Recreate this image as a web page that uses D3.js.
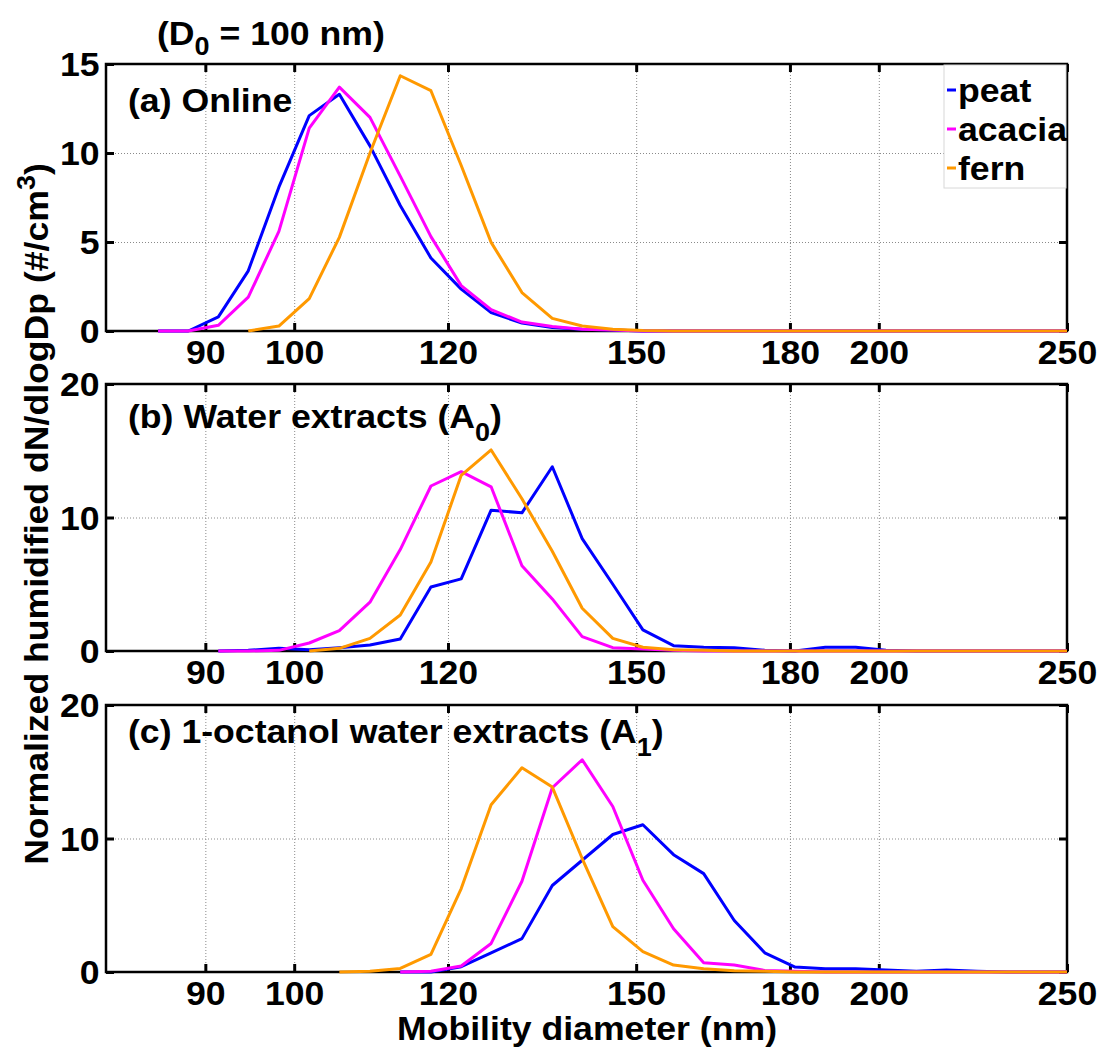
<!DOCTYPE html>
<html>
<head>
<meta charset="utf-8">
<script src="https://cdn.jsdelivr.net/npm/d3@7"></script>
<style>
  body { margin: 0; background: #fff; }
  svg { display: block; font-family: "Liberation Sans", Arial, sans-serif; font-weight: bold; }
</style>
</head>
<body>
<div id="chart"></div>
<script>
// SMPS bin midpoints (nm)
const xBins = [85.1, 88.2, 91.4, 94.7, 98.2, 101.8, 105.5, 109.4, 113.4, 117.6,
  121.9, 126.3, 131.0, 135.8, 140.7, 145.9, 151.2, 156.8, 162.5, 168.5,
  174.7, 181.1, 187.7, 194.6, 201.7, 209.1, 216.7, 224.7, 232.9, 241.4, 250.3];

// (a) Online  (null = no measurement)
const peatA = [0, 0, 0.79, 3.38, 8.08, 12.1, 13.3, 10.4, 7.05, 4.1,
  2.35, 1.03, 0.45, 0.2, 0.1, 0.05, 0, 0, 0, 0, 0, 0, 0, 0, 0, 0, 0, 0, 0, 0, 0];
const acaciaA = [0, 0, 0.32, 1.9, 5.6, 11.4, 13.7, 12.0, 8.7, 5.3,
  2.55, 1.2, 0.5, 0.25, 0.1, 0.05, 0, 0, 0, 0, 0, 0, 0, 0, 0, 0, 0, 0, 0, 0, 0];
const fernA = [null, null, null, 0, 0.28, 1.82, 5.26, 10.0, 14.34, 13.5,
  9.3, 4.98, 2.16, 0.71, 0.28, 0.1, 0.03, 0, 0, 0, 0, 0, 0, 0, 0, 0, 0, 0, 0, 0, 0];

// (b) Water extracts (A0)
const peatB = [null, null, 0, 0.05, 0.2, 0.1, 0.25, 0.45, 0.9, 4.79,
  5.4, 10.55, 10.35, 13.8, 8.42, 5.0, 1.58, 0.4, 0.28, 0.25,
  0.05, 0, 0.28, 0.28, 0.05, 0, 0, 0, 0, 0, 0];
const acaciaB = [null, null, 0, 0, 0.05, 0.6, 1.53, 3.66, 7.6, 12.36,
  13.43, 12.3, 6.39, 3.9, 1.08, 0.25, 0.15, 0.05, 0, 0, 0, 0, 0, 0, 0, 0, 0, 0, 0, 0, 0];
const fernB = [null, null, null, null, null, 0, 0.2, 0.95, 2.7, 6.67,
  13.16, 15.06, 11.4, 7.47, 3.2, 0.95, 0.28, 0.1, 0.05, 0, 0, 0, 0, 0, 0, 0, 0, 0, 0, 0, 0];

// (c) 1-octanol water extracts (A1)
const peatC = [null, null, null, null, null, null, null, null, 0, 0,
  0.4, 1.44, 2.5, 6.48, 8.37, 10.3, 11.03, 8.79, 7.37, 3.86,
  1.44, 0.37, 0.25, 0.25, 0.15, 0.05, 0.15, 0.05, 0, 0, 0];
const acaciaC = [null, null, null, null, null, null, null, null, 0, 0.05,
  0.45, 2.14, 6.8, 13.8, 15.9, 12.4, 6.87, 3.24, 0.7, 0.52,
  0.12, 0.05, 0, 0, 0, 0, 0, 0, 0, 0, 0];
const fernC = [null, null, null, null, null, null, 0, 0.05, 0.27, 1.32,
  6.25, 12.53, 15.3, 13.85, 8.5, 3.4, 1.52, 0.52, 0.25, 0.1,
  0.05, 0, 0, 0, 0, 0, 0, 0, 0, 0, 0];

const seriesNames = [`peat`, `acacia`, `fern`];
const seriesColors = [`#0000ff`, `#ff00ff`, `#ff9900`];
const xTicks = [90, 100, 120, 150, 180, 200, 250];
const yTicksA = [0, 5, 10, 15];
const yTicksBC = [0, 10, 20];

const panels = [
  { label: [`(a) Online`], yMax: 15, yTicks: yTicksA, series: [peatA, acaciaA, fernA], top: 64, labelY: 112 },
  { label: [`(b) Water extracts (A`, `0`, `)`], yMax: 20, yTicks: yTicksBC, series: [peatB, acaciaB, fernB], top: 384, labelY: 428 },
  { label: [`(c) 1-octanol water extracts (A`, `1`, `)`], yMax: 20, yTicks: yTicksBC, series: [peatC, acaciaC, fernC], top: 705, labelY: 743 },
];

const width = 1101, height = 1048;
const left = 106, right = 1067, panelH = 267;
const fontSize = 33;
const stretch = 1.08; // reference text is a bit wider than Arial

const svg = d3.select(`#chart`).append(`svg`)
  .attr(`width`, width).attr(`height`, height)
  .attr(`viewBox`, `0 0 ${width} ${height}`);

const x = d3.scaleLog().domain([80, 250]).range([left, right]);

const line = (y) => d3.line()
  .defined((d) => d[1] != null)
  .x((d) => x(d[0]))
  .y((d) => y(d[1]));

function styleText(sel) {
  sel.selectAll(`text`)
    .attr(`font-size`, fontSize)
    .attr(`font-family`, `"Liberation Sans", Arial, sans-serif`)
    .attr(`font-weight`, `bold`)
    .attr(`fill`, `#000`)
    .attr(`transform`, `scale(${stretch},1)`);
}

// text placed at (tx, ty), widened a bit
function addText(parent, tx, ty, extra) {
  return parent.append(`text`)
    .attr(`transform`, `translate(${tx}, ${ty}) ${extra || ``} scale(${stretch},1)`)
    .attr(`font-size`, fontSize);
}

panels.forEach((p, pi) => {
  const bottom = p.top + panelH;
  const y = d3.scaleLinear().domain([0, p.yMax]).range([bottom, p.top]);
  const g = svg.append(`g`);

  svg.append(`clipPath`).attr(`id`, `clip${pi}`)
    .append(`rect`).attr(`x`, left).attr(`y`, p.top - 5)
    .attr(`width`, right - left).attr(`height`, panelH + 10);

  // grid
  g.append(`g`)
    .attr(`transform`, `translate(0, ${bottom})`)
    .call(d3.axisBottom(x).tickValues(xTicks.filter((t) => t < 250)).tickSize(-panelH).tickFormat(``))
    .call((s) => s.select(`.domain`).remove())
    .selectAll(`line`).attr(`stroke`, `#8a8a8a`).attr(`stroke-width`, 1).attr(`stroke-dasharray`, `1,2`);
  g.append(`g`)
    .attr(`transform`, `translate(${left}, 0)`)
    .call(d3.axisLeft(y).tickValues(p.yTicks.filter((t) => t > 0 && t < p.yMax)).tickSize(-(right - left)).tickFormat(``))
    .call((s) => s.select(`.domain`).remove())
    .selectAll(`line`).attr(`stroke`, `#8a8a8a`).attr(`stroke-width`, 1).attr(`stroke-dasharray`, `1,2`);

  // axes with inward ticks
  const xb = g.append(`g`)
    .attr(`transform`, `translate(0, ${bottom})`)
    .call(d3.axisBottom(x).tickValues(xTicks).tickSizeInner(-8).tickSizeOuter(0).tickPadding(10).tickFormat(d3.format(`d`)));
  g.append(`g`)
    .attr(`transform`, `translate(0, ${p.top})`)
    .call(d3.axisTop(x).tickValues(xTicks).tickSizeInner(-8).tickSizeOuter(0).tickFormat(``));
  const yl = g.append(`g`)
    .attr(`transform`, `translate(${left}, 0)`)
    .call(d3.axisLeft(y).tickValues(p.yTicks).tickSizeInner(-8).tickSizeOuter(0).tickPadding(6));
  g.append(`g`)
    .attr(`transform`, `translate(${right}, 0)`)
    .call(d3.axisRight(y).tickValues(p.yTicks).tickSizeInner(-8).tickSizeOuter(0).tickFormat(``));
  g.selectAll(`.domain`).remove();
  g.selectAll(`.tick line`).filter(function () { return !this.getAttribute(`stroke-dasharray`); })
    .attr(`stroke`, `#000`).attr(`stroke-width`, 3);
  styleText(xb);
  styleText(yl);
  yl.selectAll(`text`).attr(`dy`, `0.36em`);

  g.append(`rect`)
    .attr(`x`, left).attr(`y`, p.top)
    .attr(`width`, right - left).attr(`height`, panelH)
    .attr(`fill`, `none`).attr(`stroke`, `#000`).attr(`stroke-width`, 2.5);

  // data
  const dg = g.append(`g`).attr(`clip-path`, `url(#clip${pi})`);
  p.series.forEach((vals, i) => {
    dg.append(`path`)
      .attr(`d`, line(y)(xBins.map((b, j) => [b, vals[j]])))
      .attr(`fill`, `none`)
      .attr(`stroke`, seriesColors[i])
      .attr(`stroke-width`, 3)
      .attr(`stroke-linejoin`, `round`);
  });

  // panel label
  const t = addText(g, 128, p.labelY);
  t.append(`tspan`).text(p.label[0]);
  if (p.label.length > 1) {
    t.append(`tspan`).attr(`dy`, 13).attr(`font-size`, 25).text(p.label[1]);
    t.append(`tspan`).attr(`dy`, -13).text(p.label[2]);
  }
});

// legend (panel a)
const legend = svg.append(`g`);
legend.append(`rect`)
  .attr(`x`, 944).attr(`y`, 65).attr(`width`, 122).attr(`height`, 123)
  .attr(`fill`, `#fff`).attr(`stroke`, `#d8d8d8`).attr(`stroke-width`, 1);
seriesNames.forEach((name, i) => {
  const cy = 90 + i * 39;
  legend.append(`line`)
    .attr(`x1`, 947).attr(`x2`, 956).attr(`y1`, cy).attr(`y2`, cy)
    .attr(`stroke`, seriesColors[i]).attr(`stroke-width`, 3);
  addText(legend, 958, cy + 12).text(name);
});

// title
const title = addText(svg, 157, 45);
title.append(`tspan`).text(`(D`);
title.append(`tspan`).attr(`dy`, 10).attr(`font-size`, 25).text(`0`);
title.append(`tspan`).attr(`dy`, -10).text(` = 100 nm)`);

// axis labels
addText(svg, 587, 1040)
  .attr(`text-anchor`, `middle`)
  .text(`Mobility diameter (nm)`);

const ylab = addText(svg, 48, 514, `rotate(-90)`)
  .attr(`text-anchor`, `middle`);
ylab.append(`tspan`).text(`Normalized humidified dN/dlogDp (#/cm`);
ylab.append(`tspan`).attr(`dy`, -13).attr(`font-size`, 25).text(`3`);
ylab.append(`tspan`).attr(`dy`, 13).text(`)`);
</script>
</body>
</html>
